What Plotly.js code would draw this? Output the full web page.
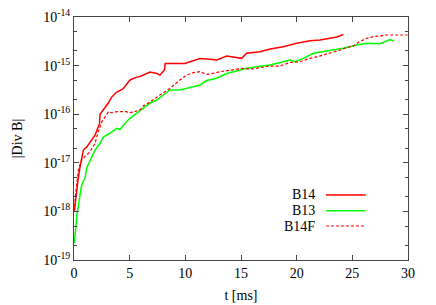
<!DOCTYPE html>
<html>
<head>
<meta charset="utf-8">
<script src="https://cdn.plot.ly/plotly-3.0.1.min.js"></script>
<style>html,body{margin:0;padding:0;background:#fff;}#chart{width:436px;height:305px;}</style>
</head>
<body>
<div id="chart"></div>
<script>
// B14 (red solid)
const b14_t = [0.03,0.13,0.24,0.36,0.54,0.72,0.84,1.14,1.44,1.89,2.18,2.29,2.34,2.63,3.08,3.39,3.84,4.40,5.03,5.63,5.93,6.83,7.43,7.72,8.02,8.13,8.19,9.97,10.42,11.32,12.22,12.82,13.72,14.61,15.06,15.51,16.71,17.61,18.80,20.0,21.2,22.1,23.0,23.62,24.19];
const b14_v = [1.0e-18,1.72e-18,2.4e-18,4.4e-18,8.2e-18,1.45e-17,1.83e-17,2.1e-17,2.7e-17,3.7e-17,5.5e-17,6.3e-17,1.0e-16,1.22e-16,1.7e-16,2.26e-16,2.86e-16,3.3e-16,5.06e-16,5.8e-16,5.97e-16,7.4e-16,6.9e-16,6.4e-16,7.7e-16,8.1e-16,1.11e-15,1.11e-15,1.20e-15,1.40e-15,1.35e-15,1.30e-15,1.58e-15,1.48e-15,1.41e-15,1.79e-15,1.93e-15,2.2e-15,2.45e-15,2.88e-15,3.25e-15,3.36e-15,3.65e-15,3.88e-15,4.37e-15];

// B13 (green solid)
const b13_t = [0.0,0.09,0.18,0.24,0.39,0.54,0.67,0.84,0.99,1.14,1.44,1.89,2.34,2.63,3.23,3.84,4.13,4.58,5.03,5.63,6.22,6.83,7.43,8.02,8.62,9.52,10.12,10.72,11.32,11.92,12.82,13.72,14.61,15.51,16.41,17.6,18.8,19.4,19.85,20.6,21.5,23.0,24.19,25.39,26.29,27.49,28.11,28.38,28.74];
const b13_v = [2.2e-19,3.1e-19,4.84e-19,7.8e-19,1.35e-18,2.36e-18,3.33e-18,4.22e-18,4.87e-18,7.8e-18,1.09e-17,1.83e-17,2.52e-17,3.4e-17,4.05e-17,5.13e-17,4.84e-17,6.5e-17,8.24e-17,1.04e-16,1.32e-16,1.68e-16,1.96e-16,2.48e-16,3.15e-16,3.15e-16,3.41e-16,3.68e-16,3.99e-16,4.93e-16,5.48e-16,6.88e-16,7.74e-16,8.8e-16,9.5e-16,1.03e-15,1.20e-15,1.30e-15,1.20e-15,1.41e-15,1.79e-15,2.06e-15,2.27e-15,2.65e-15,2.88e-15,2.81e-15,3.21e-15,3.44e-15,3.21e-15];

// B14F (red dashed)
const b14f_t = [0.03,0.13,0.39,0.69,0.99,1.44,1.89,2.18,2.49,2.94,3.08,3.53,3.84,4.73,4.88,5.33,5.93,6.22,6.83,7.72,8.62,9.52,10.12,10.72,11.32,11.92,12.22,13.11,14.31,15.21,15.81,16.71,17.6,18.5,19.4,20.3,21.2,22.1,23.0,23.9,24.5,25.09,25.51,26.23,26.88,28.09,29.96];
const b14f_v = [1.0e-18,2.17e-18,7.1e-18,1.14e-17,1.34e-17,1.69e-17,2.52e-17,4.4e-17,6.9e-17,1.0e-16,1.11e-16,1.07e-16,1.13e-16,1.13e-16,1.07e-16,1.11e-16,1.22e-16,1.47e-16,1.78e-16,2.48e-16,3.41e-16,5.06e-16,6.41e-16,7.14e-16,7.49e-16,6.62e-16,6.71e-16,7.49e-16,8.12e-16,8.8e-16,8.4e-16,9.06e-16,9.8e-16,9.8e-16,1.16e-15,1.20e-15,1.41e-15,1.58e-15,1.79e-15,2.09e-15,2.36e-15,2.53e-15,2.99e-15,3.61e-15,3.93e-15,4.26e-15,4.26e-15];

const seriesNames = ["B14","B13","B14F"];
const yTickVals = [1e-19,1e-18,1e-17,1e-16,1e-15,1e-14];
const yTickText = ["10<sup>-19</sup>","10<sup>-18</sup>","10<sup>-17</sup>","10<sup>-16</sup>","10<sup>-15</sup>","10<sup>-14</sup>"];
const xTickVals = [0,5,10,15,20,25,30];

const FONT = "'Liberation Serif', 'Times New Roman', serif";
const RED = "#ff0000", GREEN = "#00ff00";

const traces = [
  {x:b14_t, y:b14_v, name:seriesNames[0], mode:"lines", line:{color:RED, width:1.5}},
  {x:b13_t, y:b13_v, name:seriesNames[1], mode:"lines", line:{color:GREEN, width:1.5}},
  {x:b14f_t, y:b14f_v, name:seriesNames[2], mode:"lines", line:{color:RED, width:1.2, dash:"3px,2px"}}
];

const axisCommon = {
  showline:true, linecolor:"#444", linewidth:1, mirror:"ticks",
  ticks:"inside", ticklen:5, tickcolor:"#444", tickwidth:1,
  showgrid:false, zeroline:false,
  tickfont:{family:FONT, size:14, color:"#000"}
};

const legY = [0.2675, 0.2029, 0.1399];
const legStyles = [{color:RED,width:1.5,dash:"solid"},{color:GREEN,width:1.5,dash:"solid"},{color:RED,width:1.2,dash:"3px,2px"}];
const shapes = [], annotations = [];
for (let i=0;i<3;i++){
  shapes.push({type:"line", xref:"paper", yref:"paper", x0:0.7545, x1:0.8734, y0:legY[i], y1:legY[i], line:legStyles[i]});
  annotations.push({xref:"paper", yref:"paper", x:0.7267, y:legY[i], xanchor:"right", yanchor:"middle", showarrow:false, text:seriesNames[i], font:{family:FONT, size:14, color:"#000"}});
}

const layout = {
  width:436, height:305,
  margin:{l:74, r:28, t:17, b:45},
  paper_bgcolor:"#fff", plot_bgcolor:"#fff",
  showlegend:false,
  font:{family:FONT, size:14, color:"#000"},
  xaxis: Object.assign({}, axisCommon, {
    range:[0,30], tickmode:"array", tickvals:xTickVals,
    title:{text:"t [ms]", font:{family:FONT, size:14, color:"#000"}, standoff:10}
  }),
  yaxis: Object.assign({}, axisCommon, {
    type:"log", range:[-19,-14], tickmode:"array", tickvals:yTickVals, ticktext:yTickText,
    minor:{ticks:"inside", ticklen:3, tickcolor:"#444", dtick:"D2", showgrid:false},
    title:{text:"|Div B|", font:{family:FONT, size:14, color:"#000"}, standoff:17}
  }),
  shapes:shapes, annotations:annotations
};

Plotly.newPlot("chart", traces, layout, {staticPlot:true, displayModeBar:false});
</script>
</body>
</html>
